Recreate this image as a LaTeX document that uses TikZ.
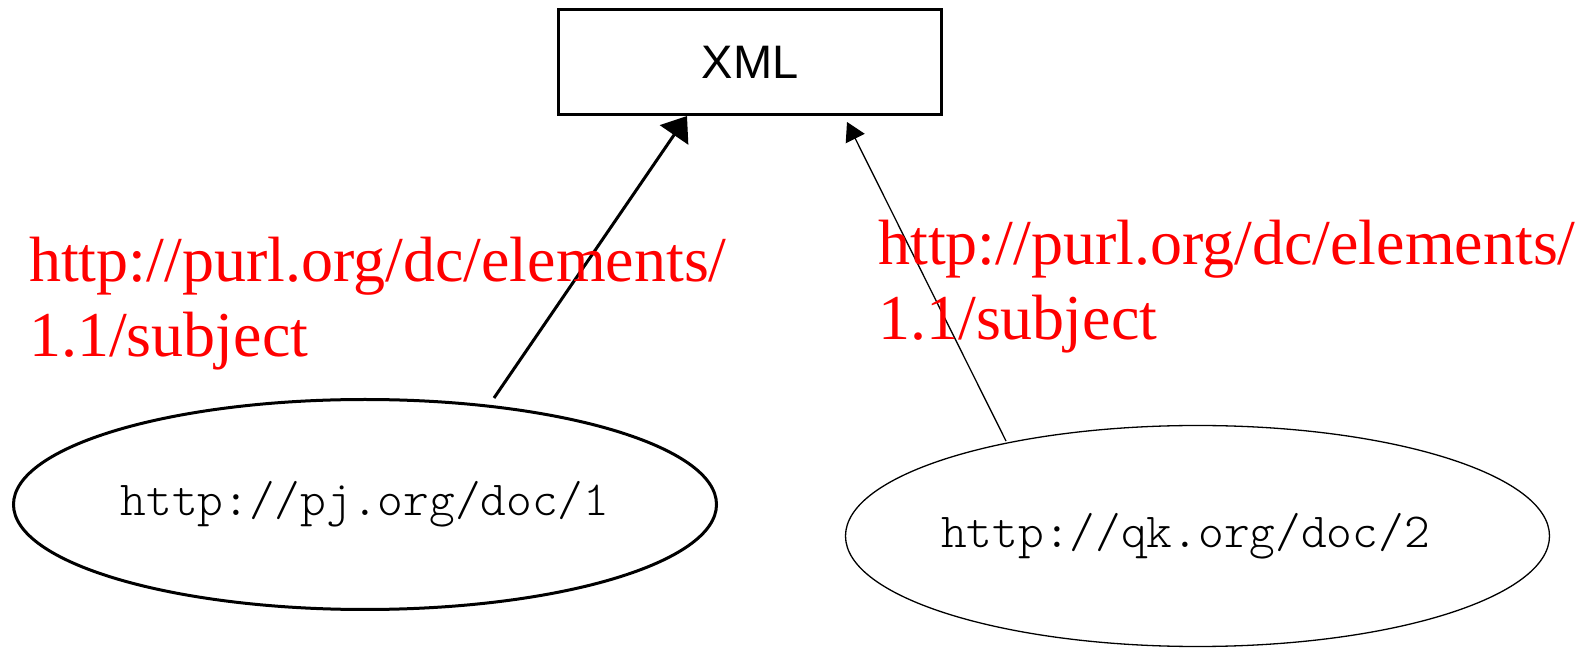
\documentclass[tikz,border=0pt]{standalone}
\usepackage{fontspec}
\setmainfont{Liberation Serif}
\newfontfamily\sansfam{Liberation Sans}
\newfontfamily\monolight{lmmonolt10-regular.otf}
\usetikzlibrary{shapes.geometric,arrows.meta,calc}

\tikzset{
  classbox/.style={draw, line width=3pt, rectangle, inner sep=0pt,
    minimum width=383pt, minimum height=105pt,
    font=\sansfam\fontsize{47}{54}\selectfont},
  resource/.style={draw, ellipse, inner sep=0pt,
    font=\monolight\fontsize{49}{57}\selectfont},
  proplabel/.style={text=red, align=left, inner sep=0pt, anchor=base west,
    font=\fontsize{64}{75}\selectfont},
  thickedge/.style={line width=3pt,
    -{Triangle[length=23pt,width=34pt]}},
  thinedge/.style={line width=1.3pt,
    -{Triangle[length=18.5pt,width=21pt]}},
}

\begin{document}
\begin{tikzpicture}[x=1pt,y=1pt]
  \useasboundingbox (0,0) rectangle (1585,648);

  % class and the two resources
  \node[classbox] (xml) at (750,586) {XML};
  \node[resource, line width=3pt, minimum width=703pt, minimum height=210pt]
    (pj) at (365,143.5) {http://pj.org/doc/1};
  \node[resource, line width=1.3pt, minimum width=704pt, minimum height=221pt]
    (qk) at (1197.5,112) {\raisebox{-9pt}{\hspace*{-24pt}http://qk.org/doc/2}};

  % edge end points
  \coordinate (pjout) at ($(pj.center)+(129,106.5)$);
  \coordinate (qkout) at ($(qk.center)+(-191.5,95)$);
  \coordinate (xmlinl) at ($(xml.south west)+(130,0)$);
  \coordinate (xmlinr) at ($(xml.south west)+(290,-6)$);

  % subject edges
  \draw[thickedge] (pjout) -- (xmlinl);
  \draw[thinedge] (qkout) -- (xmlinr);

  % property labels (anchored on the baseline of the last line)
  \node[proplabel] (lblpj) at (29,291) {http://purl.org/dc/elements/\\1.1/subject};
  \node[proplabel] (lblqk) at (878,308) {http://purl.org/dc/elements/\\1.1/subject};
\end{tikzpicture}
\end{document}
